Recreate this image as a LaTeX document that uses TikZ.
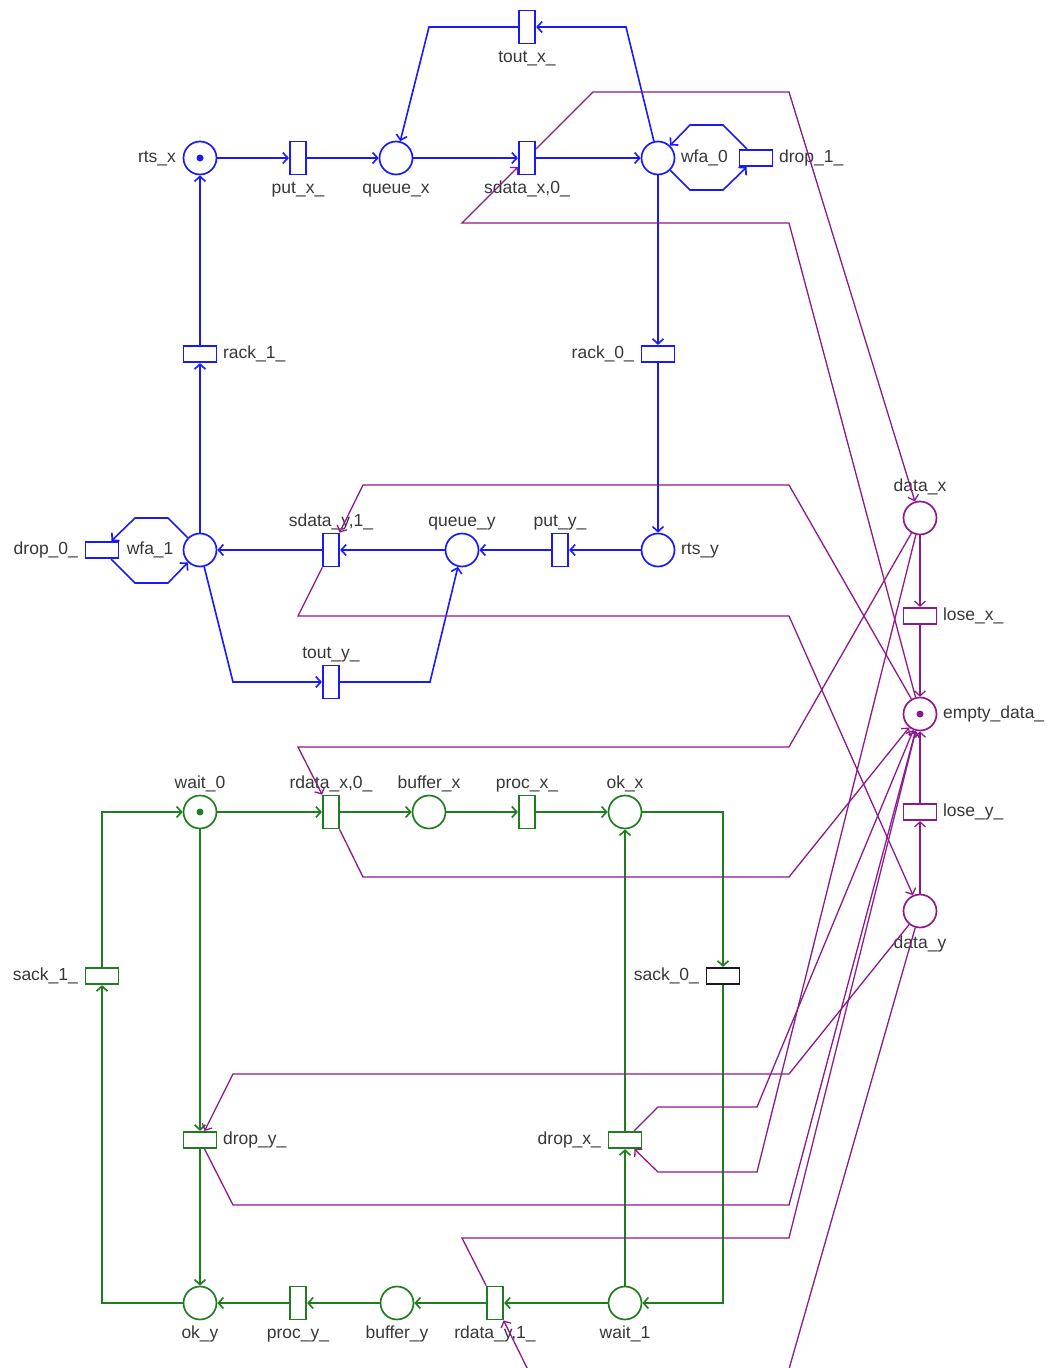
\documentclass[tikz,border=0pt]{standalone}
\usepackage{fontspec}
\setmainfont{Liberation Sans}
\usetikzlibrary{arrows.meta}
\definecolor{cB}{RGB}{25,25,255}
\definecolor{cG}{RGB}{30,125,30}
\definecolor{cP}{RGB}{140,25,140}
\definecolor{cT}{RGB}{55,55,55}
\definecolor{cK}{RGB}{25,25,25}
\begin{document}
\begin{tikzpicture}[x=1pt,y=-1pt,
  every node/.style={font=\fontsize{17.5}{21}\selectfont},
  pl/.style={circle,draw,line width=1.7pt,minimum size=33pt,inner sep=0pt},
  vt/.style={rectangle,draw,line width=1.7pt,minimum width=16.5pt,minimum height=33pt,inner sep=0pt},
  ht/.style={rectangle,draw,line width=1.7pt,minimum width=33pt,minimum height=16.5pt,inner sep=0pt},
  lbl/.style={text=cT,inner sep=1pt,text height=12.5pt,text depth=4pt},
  lb/.style={label={[lbl,label distance=4.5pt]below:#1}},
  la/.style={label={[lbl,label distance=0.5pt]above:#1}},
  ll/.style={label={[lbl,label distance=5.5pt]left:#1}},
  lr/.style={label={[lbl,label distance=4.5pt]right:#1}},
  tok/.style={circle,fill,inner sep=0pt,minimum size=7pt},
  arc/.style={line width=1.6pt,-{Straight Barb[length=5pt,width=11pt]}},
  parc/.style={line width=1.3pt,-{Straight Barb[length=5pt,width=11pt]}}
]
\useasboundingbox (0,0) rectangle (1049,1368);

% ---- blue: sender side ----
\node[pl,cB,ll={rts\_x}] (rtsx) at (200,158) {};
\node[tok,cB] (rtsxT) at (rtsx) {};
\node[vt,cB,lb={put\_x\_}] (putx) at (298,158) {};
\node[pl,cB,lb={queue\_x}] (qx) at (396,158) {};
\node[vt,cB,lb={sdata\_x,0\_}] (sdx) at (527,158) {};
\node[pl,cB,lr={wfa\_0}] (wfa0) at (658,158) {};
\node[ht,cB,lr={drop\_1\_}] (d1) at (756,158) {};
\node[vt,cB,lb={tout\_x\_}] (tx) at (527,27) {};
\node[ht,cB,ll={rack\_0\_}] (rack0) at (658,354) {};
\node[ht,cB,lr={rack\_1\_}] (rack1) at (200,354) {};
\node[pl,cB,lr={rts\_y}] (rtsy) at (658,550) {};
\node[vt,cB,la={put\_y\_}] (puty) at (560,550) {};
\node[pl,cB,la={queue\_y}] (qy) at (462,550) {};
\node[vt,cB,la={sdata\_y,1\_}] (sdy) at (331,550) {};
\node[pl,cB,label={[lbl,label distance=8pt]left:wfa\_1}] (wfa1) at (200,550) {};
\node[ht,cB,ll={drop\_0\_}] (d0) at (102,550) {};
\node[vt,cB,la={tout\_y\_}] (ty) at (331,682) {};

% ---- purple: channel ----
\node[pl,cP,label={[lbl,label distance=4pt]above:data\_x}] (dx) at (920,518) {};
\node[ht,cP,lr={lose\_x\_}] (lx) at (920,616) {};
\node[pl,cP,lr={empty\_data\_}] (ed) at (920,714) {};
\node[tok,cP] (edT) at (ed) {};
\node[ht,cP,lr={lose\_y\_}] (ly) at (920,812) {};
\node[pl,cP,label={[lbl,label distance=6pt]below:data\_y}] (dy) at (920,911) {};

% ---- green: receiver side ----
\node[pl,cG,la={wait\_0}] (w0) at (200,812) {};
\node[tok,cG] (w0T) at (w0) {};
\node[vt,cG,la={rdata\_x,0\_}] (rdx) at (331,812) {};
\node[pl,cG,la={buffer\_x}] (bx) at (429,812) {};
\node[vt,cG,la={proc\_x\_}] (px) at (527,812) {};
\node[pl,cG,la={ok\_x}] (okx) at (625,812) {};
\node[ht,cK,ll={sack\_0\_}] (s0) at (723,976) {};
\node[ht,cG,ll={sack\_1\_}] (s1) at (102,976) {};
\node[ht,cG,lr={drop\_y\_}] (dropy) at (200,1140) {};
\node[ht,cG,ll={drop\_x\_}] (dropx) at (625,1140) {};
\node[pl,cG,lb={ok\_y}] (oky) at (200,1303) {};
\node[vt,cG,lb={proc\_y\_}] (py) at (298,1303) {};
\node[pl,cG,lb={buffer\_y}] (by) at (397,1303) {};
\node[vt,cG,lb={rdata\_y,1\_}] (rdy) at (495,1303) {};
\node[pl,cG,lb={wait\_1}] (w1) at (625,1303) {};

% ---- blue arcs ----
\begin{scope}[cB,arc]
\draw (rtsx) -- (putx);
\draw (putx) -- (qx);
\draw (qx) -- (sdx);
\draw (sdx) -- (wfa0);
\draw (wfa0) -- (626,27) -- (tx);
\draw (tx) -- (429,27) -- (qx);
\draw (wfa0) -- (690,190) -- (723,190) -- (d1);
\draw (d1) -- (723,125) -- (690,125) -- (wfa0);
\draw (wfa0) -- (rack0);
\draw (rack0) -- (rtsy);
\draw (rtsy) -- (puty);
\draw (puty) -- (qy);
\draw (qy) -- (sdy);
\draw (sdy) -- (wfa1);
\draw (wfa1) -- (rack1);
\draw (rack1) -- (rtsx);
\draw (wfa1) -- (168,518) -- (135,518) -- (d0);
\draw (d0) -- (135,583) -- (168,583) -- (wfa1);
\draw (wfa1) -- (233,682) -- (ty);
\draw (ty) -- (430,682) -- (qy);
\end{scope}

% ---- green arcs ----
\begin{scope}[cG,arc]
\draw (w0) -- (rdx);
\draw (rdx) -- (bx);
\draw (bx) -- (px);
\draw (px) -- (okx);
\draw (okx) -- (723,812) -- (s0);
\draw (s0) -- (723,1303) -- (w1);
\draw (w1) -- (rdy);
\draw (rdy) -- (by);
\draw (by) -- (py);
\draw (py) -- (oky);
\draw (oky) -- (102,1303) -- (s1);
\draw (s1) -- (102,812) -- (w0);
\draw (w0) -- (dropy);
\draw (dropy) -- (oky);
\draw (w1) -- (dropx);
\draw (dropx) -- (okx);
\end{scope}

% ---- purple arcs ----
\begin{scope}[cP,parc]
\draw (dx) -- (lx);
\draw (lx) -- (ed);
\draw (dy) -- (ly);
\draw (ly) -- (ed);
\draw (ed) -- (789,223) -- (462,223) -- (sdx);
\draw (sdx) -- (593,92) -- (789,92) -- (dx);
\draw (ed) -- (789,485) -- (363,485) -- (sdy);
\draw (sdy) -- (298,616) -- (789,616) -- (dy);
\draw (dx) -- (789,747) -- (298,747) -- (rdx);
\draw (rdx) -- (363,877) -- (789,877) -- (ed);
\draw (dx) -- (757,1172) -- (658,1172) -- (dropx);
\draw (dropx) -- (658,1107) -- (757,1107) -- (ed);
\draw (dy) -- (789,1074) -- (233,1074) -- (dropy);
\draw (dropy) -- (233,1205) -- (789,1205) -- (ed);
\draw (dy) -- (787,1376) -- (531,1376) -- (rdy);
\draw (rdy) -- (462,1238) -- (789,1238) -- (ed);
\end{scope}
\end{tikzpicture}
\end{document}
